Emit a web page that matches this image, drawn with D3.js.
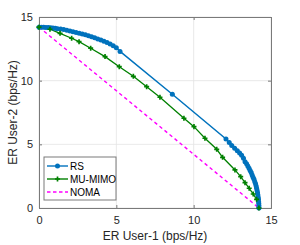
<!DOCTYPE html>
<html>
<head>
<meta charset="utf-8">
<script src="https://cdn.jsdelivr.net/npm/d3@7"></script>
<style>
  body { margin: 0; background: #fff; }
  text { font-family: "Liberation Sans", Arial, sans-serif; }
</style>
</head>
<body>
<div id="chart"></div>
<script>
const width = 300;
const height = 245;

// data
const rsX = [0, 0.15, 0.3, 0.45, 0.6, 0.75, 0.9, 1.05, 1.2, 1.4, 1.6, 1.8, 2.0, 2.2, 2.4, 2.6, 2.8, 3.0, 3.2, 3.4, 3.6, 3.8, 4.0, 4.2, 4.4, 4.6, 4.8, 5.0, 5.24,
    8.62, 12.09, 12.3, 12.46, 12.65, 12.82, 12.97, 13.1, 13.22, 13.32, 13.42, 13.5, 13.58, 13.65, 13.72, 13.78, 13.84, 13.9, 13.95, 14.0, 14.04, 14.07, 14.1, 14.13, 14.15, 14.17, 14.19, 14.2, 14.21, 14.22, 14.22];
const rsY = [14.2, 14.2, 14.19, 14.18, 14.17, 14.15, 14.13, 14.11, 14.08, 14.05, 14.01, 13.96, 13.91, 13.85, 13.79, 13.73, 13.67, 13.6, 13.53, 13.45, 13.37, 13.28, 13.19, 13.1, 12.99, 12.88, 12.75, 12.58, 12.3,
    8.93, 5.42, 5.15, 4.9, 4.7, 4.5, 4.32, 4.14, 3.9, 3.64, 3.47, 3.3, 3.12, 2.95, 2.78, 2.6, 2.42, 2.25, 2.07, 1.9, 1.72, 1.55, 1.38, 1.2, 1.02, 0.85, 0.68, 0.5, 0.35, 0.18, 0];

const mimoX = [0, 0.71, 1.36, 2.11, 2.59, 3.34, 4.27, 5.19, 6.1, 6.96, 7.82, 9.37, 10.02, 10.73, 11.49, 11.87, 12.67, 13.04, 13.32, 13.59, 13.85, 14.07, 14.22];
const mimoY = [14.2, 14.04, 13.72, 13.33, 13.06, 12.55, 11.89, 11.1, 10.34, 9.53, 8.7, 7.05, 6.39, 5.48, 4.61, 3.98, 2.99, 2.46, 1.99, 1.55, 1.1, 0.68, 0];

const nomaX = [0, 14.22];
const nomaY = [14.2, 0];

const xTicks = [0, 5, 10, 15];
const yTicks = [0, 5, 10, 15];
const legendNames = ["RS", "MU-MIMO", "NOMA"];

const margin = { top: 17, right: 29, bottom: 37, left: 39 };
const w = width - margin.left - margin.right;
const h = height - margin.top - margin.bottom;

const svg = d3.select("#chart")
    .append("svg")
    .attr("width", width)
    .attr("height", height);

const g = svg.append("g")
    .attr("transform", `translate(${margin.left},${margin.top})`);

const x = d3.scaleLinear().domain([0, 15]).range([0, w]);
const y = d3.scaleLinear().domain([0, 15]).range([h, 0]);

// grid
g.append("g")
    .selectAll("line.gx")
    .data(xTicks)
    .enter()
    .append("line")
    .attr("x1", d => x(d)).attr("x2", d => x(d))
    .attr("y1", 0).attr("y2", h)
    .attr("stroke", "#e3e3e3")
    .attr("stroke-width", 0.8);
g.append("g")
    .selectAll("line.gy")
    .data(yTicks)
    .enter()
    .append("line")
    .attr("y1", d => y(d)).attr("y2", d => y(d))
    .attr("x1", 0).attr("x2", w)
    .attr("stroke", "#e3e3e3")
    .attr("stroke-width", 0.8);

// axes (ticks inside, box on)
g.append("g")
    .attr("transform", `translate(0,${h})`)
    .call(d3.axisBottom(x).tickValues(xTicks).tickSize(-3).tickPadding(8));
g.append("g")
    .call(d3.axisLeft(y).tickValues(yTicks).tickSize(-3).tickPadding(6));
g.append("g")
    .call(d3.axisTop(x).tickValues(xTicks).tickSize(-3).tickFormat(""));
g.append("g")
    .attr("transform", `translate(${w},0)`)
    .call(d3.axisRight(y).tickValues(yTicks).tickSize(-3).tickFormat(""));

svg.selectAll(".domain, .tick line")
    .attr("stroke", "#7a7a7a")
    .attr("stroke-width", 1);
svg.selectAll(".tick text")
    .attr("fill", "#262626")
    .attr("font-size", "11px")
    .attr("font-family", "Liberation Sans, Arial, sans-serif");

// lines
const line = d3.line().x(d => x(d[0])).y(d => y(d[1]));
const rs = rsX.map((v, i) => [v, rsY[i]]);
const mimo = mimoX.map((v, i) => [v, mimoY[i]]);
const noma = nomaX.map((v, i) => [v, nomaY[i]]);

g.append("path")
    .datum(noma)
    .attr("d", line)
    .attr("fill", "none")
    .attr("stroke", "#ff00ff")
    .attr("stroke-width", 1.4)
    .attr("stroke-dasharray", "3.5,3");

g.append("path")
    .datum(mimo)
    .attr("d", line)
    .attr("fill", "none")
    .attr("stroke", "#008000")
    .attr("stroke-width", 1.3);

g.append("path")
    .datum(rs)
    .attr("d", line)
    .attr("fill", "none")
    .attr("stroke", "#0072bd")
    .attr("stroke-width", 1.5);

g.selectAll("circle.rs")
    .data(rs)
    .enter()
    .append("circle")
    .attr("cx", d => x(d[0]))
    .attr("cy", d => y(d[1]))
    .attr("r", 2.5)
    .attr("fill", "#0072bd");

const plus = d3.symbol().type(d3.symbolCross).size(14);
g.selectAll("path.mimo")
    .data(mimo)
    .enter()
    .append("path")
    .attr("d", plus)
    .attr("transform", d => `translate(${x(d[0])},${y(d[1])})`)
    .attr("fill", "#008000");

// axis labels
svg.append("text")
    .attr("x", margin.left + w / 2)
    .attr("y", 240)
    .attr("text-anchor", "middle")
    .attr("font-size", "12px")
    .attr("fill", "#262626")
    .text("ER User-1 (bps/Hz)");

svg.append("text")
    .attr("transform", `translate(17,${margin.top + h / 2}) rotate(-90)`)
    .attr("text-anchor", "middle")
    .attr("font-size", "12px")
    .attr("fill", "#262626")
    .text("ER User-2 (bps/Hz)");

// legend
const lg = svg.append("g").attr("transform", "translate(44,157)");
lg.append("rect")
    .attr("width", 72).attr("height", 43)
    .attr("fill", "#fff")
    .attr("stroke", "#7a7a7a")
    .attr("stroke-width", 1);
const colors = ["#0072bd", "#008000", "#ff00ff"];
legendNames.forEach((name, i) => {
    const yy = 9 + i * 13;
    lg.append("line")
        .attr("x1", 3).attr("x2", 24)
        .attr("y1", yy).attr("y2", yy)
        .attr("stroke", colors[i])
        .attr("stroke-width", 1.4)
        .attr("stroke-dasharray", i === 2 ? "3.5,2.5" : null);
    if (i === 0) {
        lg.append("circle").attr("cx", 13.5).attr("cy", yy).attr("r", 2.5).attr("fill", colors[0]);
    } else if (i === 1) {
        lg.append("path").attr("d", plus).attr("transform", `translate(13.5,${yy})`).attr("fill", colors[1]);
    }
    lg.append("text")
        .attr("x", 26).attr("y", yy + 3.5)
        .attr("font-size", "10px")
        .attr("fill", "#000")
        .text(name);
});
</script>
</body>
</html>
